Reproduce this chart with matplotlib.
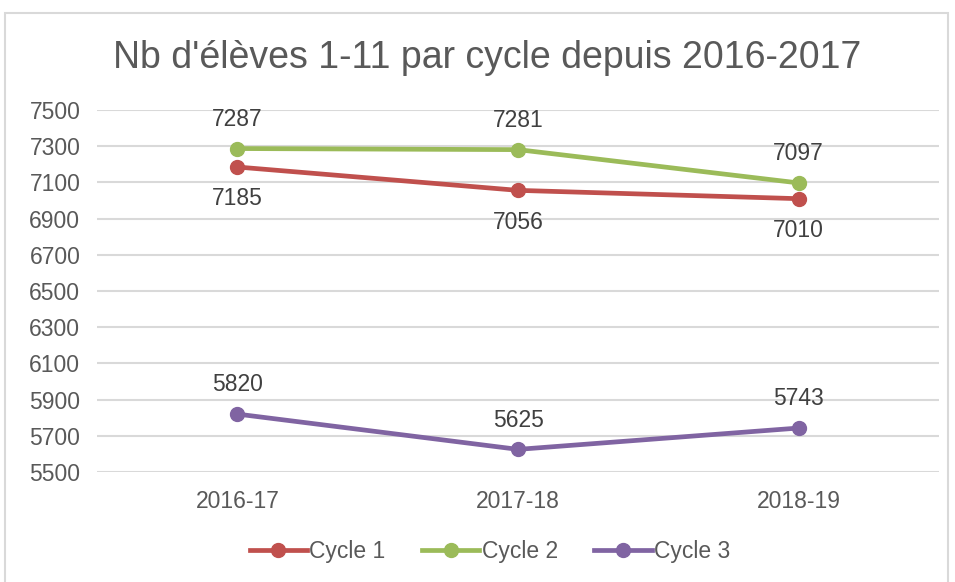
import matplotlib.pyplot as plt
from matplotlib.patches import Rectangle

# données
annees = ["2016-17", "2017-18", "2018-19"]
cycle1 = [7185, 7056, 7010]
cycle2 = [7287, 7281, 7097]
cycle3 = [5820, 5625, 5743]
graduations = [5500, 5700, 5900, 6100, 6300, 6500, 6700, 6900, 7100, 7300, 7500]

plt.rcParams['font.family'] = ['Liberation Sans', 'DejaVu Sans']
gris = "#595959"

fig = plt.figure(figsize=(9.55, 5.82), dpi=100)
ax = fig.add_axes([0.1016, 0.189, 0.8817, 0.622])

# cadre du graphique
fig.patches.append(Rectangle((0.005, -0.05), 0.988, 1.028, transform=fig.transFigure,
                             fill=False, edgecolor="#D9D9D9", linewidth=1.5))

x = list(range(len(annees)))
series = [
    ("Cycle 1", cycle1, "#C0504D", "bas"),
    ("Cycle 2", cycle2, "#9BBB59", "haut"),
    ("Cycle 3", cycle3, "#8064A2", "haut"),
]

for nom, valeurs, couleur, pos in series:
    ax.plot(x, valeurs, color=couleur, linewidth=3.4, marker="o",
            markersize=10, label=nom, zorder=3)
    for xi, v in zip(x, valeurs):
        dy = -23 if pos == "bas" else 21
        ax.annotate(str(v), (xi, v), xytext=(0, dy), textcoords="offset points",
                    ha="center", va="center", fontsize=16.5, color="#404040")

ax.set_xlim(-0.5, 2.5)
ax.set_ylim(5500, 7500)
ax.set_yticks(graduations)
ax.set_xticks(x)
ax.set_xticklabels(annees)
ax.grid(axis="y", color="#D9D9D9", linewidth=1.5)
ax.set_axisbelow(True)
for s in ax.spines.values():
    s.set_visible(False)
ax.tick_params(length=0, labelsize=16.5, labelcolor=gris)
ax.tick_params(axis="y", pad=12)
ax.tick_params(axis="x", pad=13)

fig.text(0.51, 0.9, "Nb d'élèves 1-11 par cycle depuis 2016-2017",
         ha="center", va="center", fontsize=27, color=gris)

fig.legend(loc="center", bbox_to_anchor=(0.513, 0.052), ncol=3, frameon=False,
           fontsize=16.5, labelcolor=gris, handlelength=2.5, handletextpad=0.1,
           columnspacing=1.6)

plt.savefig("out.png", dpi=100)
